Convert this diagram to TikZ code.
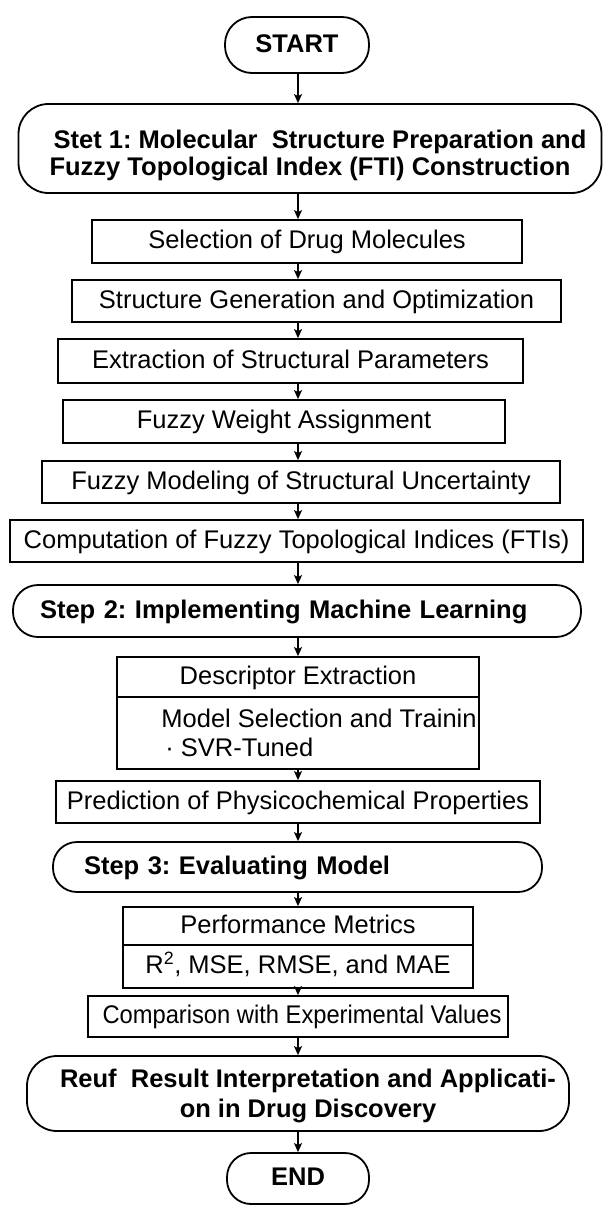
\documentclass[tikz,border=0pt]{standalone}
\usepackage{fontspec}
\usepackage{graphicx}
\setmainfont{Liberation Sans}
\usetikzlibrary{arrows.meta}
\newcommand\taille{\fontsize{25.5}{28}\selectfont\frenchspacing}

\begin{document}
\begin{tikzpicture}[
    x=1pt, y=-1pt,
    cadre/.style={draw, line width=1.8pt, inner sep=0pt},
    boite/.style={cadre, text height=18.5pt, text depth=4pt},
    terminal/.style={cadre, font=\taille\bfseries, text height=18.5pt, text depth=4pt},
    etape/.style={cadre, align=left, font=\taille\bfseries, text height=18.5pt, text depth=4pt},
    bloc/.style={cadre, align=center, rounded corners=30pt, font=\taille\bfseries},
    fleche/.style={line width=1.3pt, -{Stealth[length=9pt,width=8pt,inset=2pt]}},
    font=\taille
]

% Cadre de l'image
\useasboundingbox (0,0) rectangle (603,1207);

% Axe des flèches
\coordinate (axe) at (298,0);

% Début
\node[terminal, minimum width=144pt, minimum height=56pt, rounded corners=27pt] (debut) at (297,45) {START};

% Etape 1
\node[bloc, minimum width=583pt, minimum height=89pt] (etape1) at (310,148.5) {\rule{0pt}{32pt}\hspace*{20pt}Stet 1: Molecular\ \ Structure Preparation and\\[-1pt] Fuzzy Topological Index (FTI) Construction};
\node[boite, minimum width=430pt, minimum height=43pt] (selection) at (307,241.5) {Selection of Drug Molecules};
\node[boite, minimum width=489pt, minimum height=42pt] (generation) at (316.5,301) {Structure Generation and Optimization\hspace{16pt}};
\node[boite, minimum width=465pt, minimum height=44pt] (extraction) at (290.5,361) {Extraction of Structural Parameters\hspace{12pt}};
\node[boite, minimum width=442pt, minimum height=43pt] (poids) at (284,421.5) {Fuzzy Weight Assignment\hspace{8pt}};
\node[boite, minimum width=518pt, minimum height=42pt] (incertitude) at (301,482) {Fuzzy Modeling of Structural Uncertainty\hspace{24pt}};
\node[boite, minimum width=573pt, minimum height=42pt] (indices) at (296.5,541) {Computation of Fuzzy Topological Indices (FTIs)};

% Etape 2
\node[etape, minimum height=52pt, text width=514pt, inner xsep=27pt, rounded corners=25pt] (etape2) at (297,611) {Step 2: Implementing Machine Learning};
\node[boite, minimum width=362pt, minimum height=40pt] (descripteurs) at (298,677) {Descriptor Extraction};
\node[cadre, minimum width=362pt, minimum height=72pt, align=left] (modele) at (298,733) {\hspace*{42pt}Model Selection and Trainin\\[1pt] \hspace*{46pt}· SVR-Tuned};
\node[boite, minimum width=484pt, minimum height=42pt] (prediction) at (298,802) {Prediction of Physicochemical Properties};

% Etape 3
\node[etape, minimum height=50pt, text width=427pt, inner xsep=31pt, rounded corners=24pt] (etape3) at (297.5,867) {Step 3: Evaluating Model};
\node[boite, minimum width=350pt, minimum height=38pt] (performance) at (298,926) {Performance Metrics};
\node[boite, minimum width=350pt, minimum height=43pt] (metriques) at (298,966.5) {R\textsuperscript{2}, MSE, RMSE, and MAE};
\node[boite, minimum width=420pt, minimum height=41pt] (comparaison) at (298,1016.5) {\hspace{8pt}\scalebox{0.93}[1]{Comparison with Experimental Values}};

% Résultat et fin
\node[bloc, minimum width=542pt, minimum height=75pt] (resultat) at (298,1093.5) {\rule{0pt}{24pt}\hspace*{20pt}Reuf\ \ Result Interpretation and Applicati-\\[2pt] \hspace*{20pt}on in Drug Discovery};
\node[terminal, minimum width=142pt, minimum height=51pt, rounded corners=24pt] (fin) at (298,1178.5) {END};

% Flèches
\draw[fleche] (debut.south -| axe) -- (etape1.north -| axe);
\draw[fleche] (etape1.south -| axe) -- (selection.north -| axe);
\draw[fleche] (selection.south -| axe) -- (generation.north -| axe);
\draw[fleche] (generation.south -| axe) -- (extraction.north -| axe);
\draw[fleche] (extraction.south -| axe) -- (poids.north -| axe);
\draw[fleche] (poids.south -| axe) -- (incertitude.north -| axe);
\draw[fleche] (incertitude.south -| axe) -- (indices.north -| axe);
\draw[fleche] (indices.south -| axe) -- (etape2.north -| axe);
\draw[fleche] (etape2.south -| axe) -- (descripteurs.north -| axe);
\draw[fleche] (modele.south -| axe) -- (prediction.north -| axe);
\draw[fleche] (prediction.south -| axe) -- (etape3.north -| axe);
\draw[fleche] (etape3.south -| axe) -- (performance.north -| axe);
\draw[fleche] (metriques.south -| axe) -- (comparaison.north -| axe);
\draw[fleche] (comparaison.south -| axe) -- (resultat.north -| axe);
\draw[fleche] (resultat.south -| axe) -- (fin.north -| axe);

\end{tikzpicture}
\end{document}
